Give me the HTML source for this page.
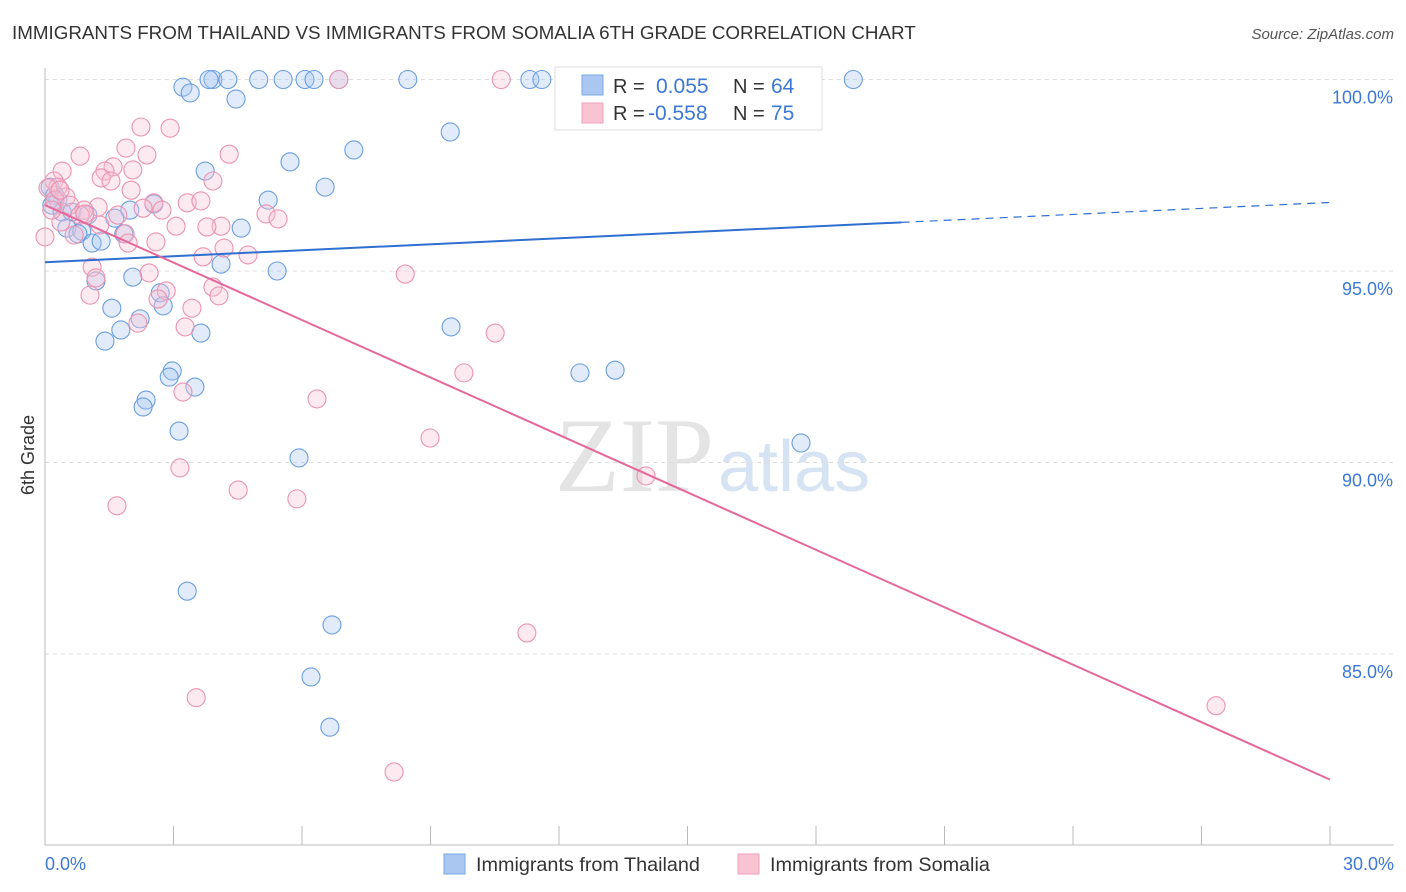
<!DOCTYPE html>
<html><head><meta charset="utf-8"><style>
body{margin:0;background:#fff;font-family:"Liberation Sans",sans-serif}
svg{display:block}
</style></head><body>
<svg id="c" width="1406" height="892" xmlns="http://www.w3.org/2000/svg">
<text x="12" y="39" font-size="18.8" fill="#333">IMMIGRANTS FROM THAILAND VS IMMIGRANTS FROM SOMALIA 6TH GRADE CORRELATION CHART</text>
<text x="1394" y="39" font-size="15" fill="#555" font-style="italic" text-anchor="end">Source: ZipAtlas.com</text>
<text x="34" y="455" font-size="18" fill="#333" text-anchor="middle" transform="rotate(-90 34 455)">6th Grade</text>
<text x="714" y="491" font-size="106" fill="#e4e4e4" font-family="Liberation Serif,serif" text-anchor="end">ZIP</text>
<text x="718" y="491" font-size="72" fill="#d6e3f3" text-anchor="start">atlas</text>
<g id="grid"></g><g id="axes"></g><g id="pts"></g><g id="lines"></g>
<g>
<rect x="555" y="67" width="267" height="63" fill="#fff" stroke="#ddd"/>
<rect x="582" y="75" width="21" height="20" fill="#a9c7f0" stroke="#7aa8e6"/>
<rect x="582" y="103" width="21" height="20" fill="#f8c3d3" stroke="#eea0b8"/>
<text x="613" y="93" font-size="20" fill="#333">R =</text><text x="656" y="93" font-size="21" fill="#3b78d8">0.055</text>
<text x="733" y="93" font-size="20" fill="#333">N =</text><text x="771" y="93" font-size="21" fill="#3b78d8">64</text>
<text x="613" y="120" font-size="20" fill="#333">R =</text><text x="648" y="120" font-size="21" fill="#3b78d8">-0.558</text>
<text x="733" y="120" font-size="20" fill="#333">N =</text><text x="771" y="120" font-size="21" fill="#3b78d8">75</text>
</g>
<g>
<rect x="444" y="854" width="21" height="20" fill="#a9c7f0" stroke="#7aa8e6"/>
<text x="476" y="871" font-size="19.8" fill="#333">Immigrants from Thailand</text>
<rect x="738" y="854" width="21" height="20" fill="#f8c3d3" stroke="#eea0b8"/>
<text x="770" y="871" font-size="19.8" fill="#333">Immigrants from Somalia</text>
</g>
</svg>
<script>
const yTicks=[100,95,90,85];
const yTickLabels=["100.0%","95.0%","90.0%","85.0%"];
const xTicks=[0,3,6,9,12,15,18,21,24,27,30];
const xEndLabels=["0.0%","30.0%"];
const thX=[3.22,3.39,3.92,3.83,4.27,4.99,5.56,6.07,6.28,6.86,8.47,11.32,11.60,18.87,4.46,9.46,7.21,5.72,3.74,6.54,5.21,0.12,0.23,0.30,0.16,0.40,0.63,1.00,1.98,1.63,2.54,0.51,0.86,0.77,1.10,1.31,1.84,4.58,4.11,5.42,2.05,1.19,2.69,1.56,2.76,2.22,1.77,3.64,1.40,9.48,12.49,13.31,2.97,2.90,3.50,2.36,2.29,3.13,5.93,17.65,3.32,6.70,6.21,6.65];
const thY=[99.80,99.65,100,100,100,100,100,100,100,100,100,100,100,100,99.49,98.63,98.16,97.85,97.61,97.19,96.85,97.19,96.98,96.85,96.72,96.54,96.54,96.46,96.59,96.38,96.75,96.12,96.04,95.97,95.73,95.78,95.97,96.12,95.18,95.00,94.84,94.74,94.43,94.03,94.09,93.75,93.46,93.38,93.17,93.54,92.34,92.41,92.39,92.23,91.97,91.63,91.45,90.82,90.12,90.51,86.64,85.76,84.40,83.09];
const soX=[6.86,10.65,2.24,2.92,1.89,2.38,4.30,0.82,0.40,1.59,1.40,2.05,1.31,1.54,3.92,0.21,0.30,2.01,0.07,0.49,0.23,0.58,1.24,2.54,3.32,3.64,2.73,2.29,0.91,0.82,5.16,5.44,0.93,1.70,3.06,4.11,3.78,0.37,0.68,0.00,1.87,2.59,1.94,4.18,3.69,4.74,1.10,2.43,8.41,1.19,3.92,2.83,1.05,2.64,4.06,3.43,2.17,3.27,10.51,9.78,3.22,6.35,8.99,3.15,4.51,5.88,1.68,14.03,11.25,3.53,27.34,8.15,0.16,1.28,0.35];
const soY=[100,100,98.76,98.73,98.21,98.03,98.05,98.00,97.61,97.72,97.61,97.64,97.43,97.35,97.35,97.35,97.19,97.11,97.17,96.93,96.85,96.72,96.67,96.78,96.78,96.83,96.59,96.64,96.59,96.46,96.49,96.36,96.49,96.46,96.17,96.17,96.15,96.28,95.94,95.89,95.97,95.76,95.73,95.60,95.37,95.42,95.10,94.95,94.92,94.82,94.58,94.48,94.37,94.27,94.35,94.03,93.64,93.54,93.38,92.34,91.84,91.66,90.64,89.86,89.28,89.05,88.87,89.65,85.55,83.86,83.65,81.92,96.59,96.20,97.11];
const thTrend=[95.23,0.052];
const soTrend=[96.72,-0.50];
const NS="http://www.w3.org/2000/svg";
const X=v=>45+v*(1285/30);
const Y=v=>79.5+(100-v)*38.3;
function mk(t,a,p){const e=document.createElementNS(NS,t);for(const k in a)e.setAttribute(k,a[k]);p.appendChild(e);return e;}
const gridG=document.getElementById('grid'),axesG=document.getElementById('axes'),ptsG=document.getElementById('pts'),linesG=document.getElementById('lines');
yTicks.forEach((t,i)=>{
 const l=mk('line',{x1:45,x2:1394,y1:Y(t),y2:Y(t),stroke:'#ddd','stroke-dasharray':'4,4'},gridG);
 
 
 const tx=mk('text',{x:1393,y:Y(t)+24,'font-size':18,fill:'#3b78d8','text-anchor':'end'},gridG);
 tx.textContent=yTickLabels[i];
 
 
});
const ax=mk('line',{x1:45,x2:45,y1:68,y2:845,stroke:'#bbb'},axesG);


const bx=mk('line',{x1:45,x2:1394,y1:845,y2:845,stroke:'#bbb'},axesG);


xTicks.forEach(t=>{
 const l=mk('line',{x1:X(t),x2:X(t),y1:826,y2:845,stroke:'#bbb'},axesG);
 
 
});
const xl0=mk('text',{x:45,y:870,'font-size':18,fill:'#3b78d8'},axesG);xl0.textContent=xEndLabels[0];


const xl1=mk('text',{x:1394,y:870,'font-size':18,fill:'#3b78d8','text-anchor':'end'},axesG);xl1.textContent=xEndLabels[1];


function dots(xs,ys,fill,stroke,name){xs.forEach((x,i)=>{
 const c=mk('circle',{cx:X(x),cy:Y(ys[i]),r:9,fill:fill,'fill-opacity':0.35,stroke:stroke,'stroke-width':1.1},ptsG);
 
 
});}
dots(thX,thY,'#a9c7f0','#6a9ee0','thailand-point');
dots(soX,soY,'#f8c3d3','#eb93b0','somalia-point');
const f=(tr,x)=>tr[0]+tr[1]*x;
const b1=mk('line',{x1:X(0),y1:Y(f(thTrend,0)),x2:X(20),y2:Y(f(thTrend,20)),stroke:'#2f6fd0','stroke-width':2},linesG);


const b2=mk('line',{x1:X(20),y1:Y(f(thTrend,20)),x2:X(30),y2:Y(f(thTrend,30)),stroke:'#2f6fd0','stroke-width':1.2,'stroke-dasharray':'8,6'},linesG);


const p1=mk('line',{x1:X(0),y1:Y(f(soTrend,0)),x2:X(30),y2:Y(f(soTrend,30)),stroke:'#e5689a','stroke-width':2},linesG);


</script>
</body></html>
